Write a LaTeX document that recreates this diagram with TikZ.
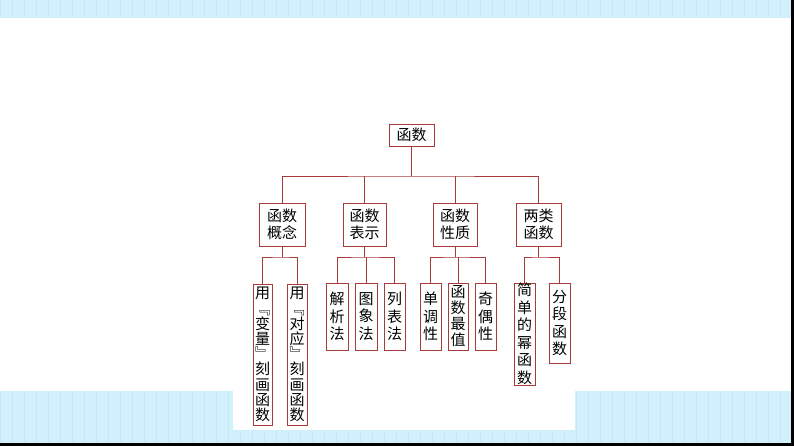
\documentclass[tikz,border=0pt]{standalone}
\usepackage{fontspec}
\setmainfont{Noto Sans CJK SC}
\definecolor{bord}{HTML}{A83A3A}
\begin{document}
\begin{tikzpicture}[x=1pt,y=-1pt,
  bx/.style={draw=bord,line width=0.8pt,inner sep=0pt,fill=white,font=\fontsize{15}{17.5}\selectfont,align=center},
  ln/.style={draw=bord,line width=0.8pt}]
\useasboundingbox (0,0) rectangle (794,446);
\fill[cyan!18] (0,0) rectangle (794,18);
\fill[cyan!18] (0,391) rectangle (794,443);
\fill[black] (0,443) rectangle (794,446);
\fill[black] (791,0) rectangle (794,446);
\begin{scope}
\clip (0,0) rectangle (791,18);
\draw[cyan!25,line width=0.3pt] (0,0) grid[step=12] (794,18);
\end{scope}
\begin{scope}
\clip (0,391) rectangle (791,443);
\draw[cyan!25,line width=0.3pt] (0,384) grid[step=12] (794,443);
\end{scope}
\fill[white] (233,391) rectangle (575,430);
\newcommand\bxn[7][]{\node[bx,#1,minimum width=#4-#3,minimum height=#6-#5] (#2) at ({(#3+#4)/2},{(#5+#6)/2}) {#7};}
\bxn{r}{389}{434}{124}{146}{函数}
\bxn{a}{259}{305}{203}{246}{函数\\概念}
\bxn{b}{343}{386}{203}{246}{函数\\表示}
\bxn{c}{433}{477}{203}{246}{函数\\性质}
\bxn{d}{516}{561}{203}{246}{两类\\函数}
\bxn[font=\fontsize{15}{15.2}\selectfont]{a1}{253}{272}{284}{425}{用\\﹃\\变\\量\\﹄\\刻\\画\\函\\数}
\bxn[font=\fontsize{15}{15.2}\selectfont]{a2}{287}{307}{284}{425}{用\\﹃\\对\\应\\﹄\\刻\\画\\函\\数}
\bxn{b1}{326}{348}{283}{350}{解\\析\\法}
\bxn{b2}{355}{377}{283}{350}{图\\象\\法}
\bxn{b3}{384}{405}{283}{350}{列\\表\\法}
\bxn{c1}{420}{441}{283}{350}{单\\调\\性}
\bxn[font=\fontsize{15}{16}\selectfont]{c2}{448}{468}{283}{350}{函\\数\\最\\值}
\bxn{c3}{475}{496}{283}{350}{奇\\偶\\性}
\bxn{d1}{514}{535}{283}{385}{简\\单\\的\\幂\\函\\数}
\bxn{d2}{549}{570}{283}{363}{分\\段\\函\\数}
\draw[ln] (r.south) -- (r.south |- 0,176);
\draw[ln] (a.north) |- (r.south |- 0,176) -| (d.north);
\draw[ln] (b.north) -- (b.north |- 0,176);
\draw[ln] (c.north) -- (c.north |- 0,176);
\draw[ln] (a.south) -- (a.south |- 0,257);
\draw[ln] (a1.north) |- (a.south |- 0,257) -| (a2.north);
\draw[ln] (b.south) -- (b.south |- 0,257);
\draw[ln] (b1.north) |- (b.south |- 0,257) -| (b3.north);
\draw[ln] (b2.north) -- (b2.north |- 0,257);
\draw[ln] (c.south) -- (c.south |- 0,257);
\draw[ln] (c1.north) |- (c.south |- 0,257) -| (c3.north);
\draw[ln] (c2.north) -- (c2.north |- 0,257);
\draw[ln] (d.south) -- (d.south |- 0,257);
\draw[ln] (d1.north) |- (d.south |- 0,257) -| (d2.north);
\end{tikzpicture}
\end{document}
